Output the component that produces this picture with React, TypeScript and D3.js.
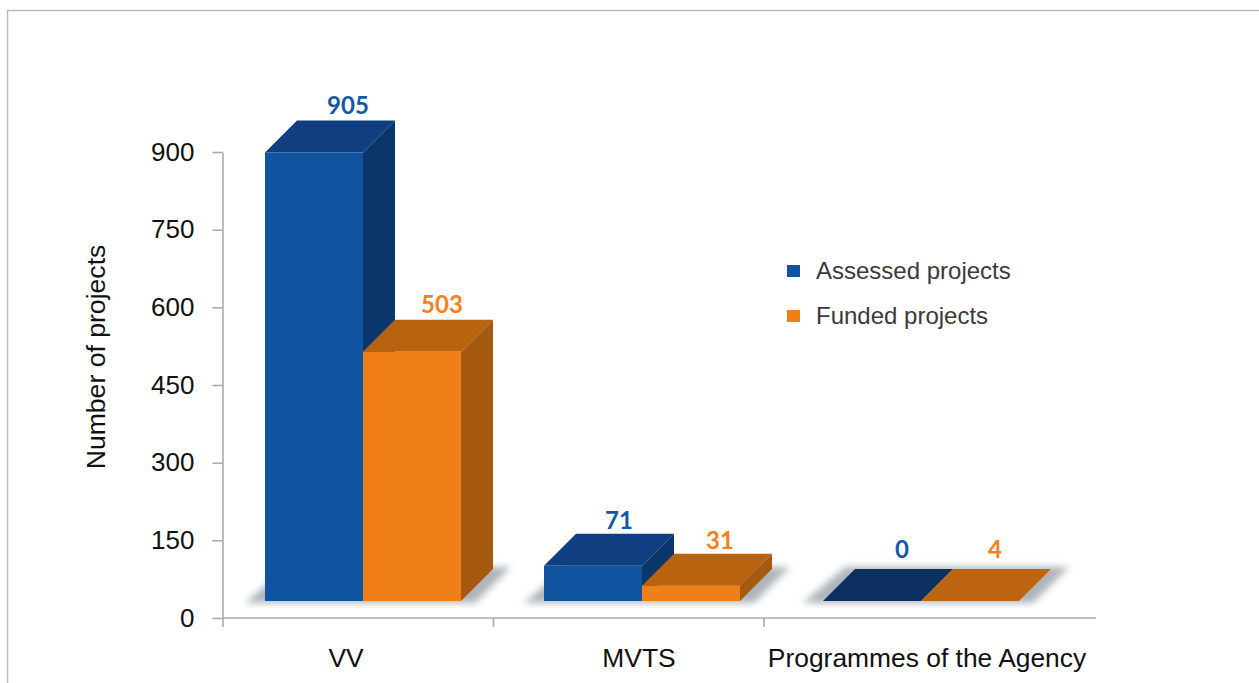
import React, { useEffect, useRef } from 'react';
import * as d3 from 'd3';

const categories = ['VV', 'MVTS', 'Programmes of the Agency'];
const assessed = [905, 71, 0];
const funded = [503, 31, 4];
const axisTicks = [0, 150, 300, 450, 600, 750, 900];
const legendLabels = ['Assessed projects', 'Funded projects'];

const WIDTH = 1259, HEIGHT = 683;
const BLUE = { front: '#10539F', top: '#0F3F80', side: '#0B366C', flat: '#0C2E60', text: '#1259A5' };
const ORANGE = { front: '#F07F1A', top: '#B8630F', side: '#A55A10', flat: '#BC6410', text: '#F28120' };
const DEPTH_X = 32, DEPTH_Y = 32;
const FONT = '"Liberation Sans", Arial, sans-serif';

const App = () => {
  const svgRef = useRef<SVGSVGElement>(null);

  useEffect(() => {
    const svg = d3.select(svgRef.current);
    svg.selectAll('*').remove();

    const blur = svg.append('defs').append('filter').attr('id', 'floor')
      .attr('x', '-20%').attr('y', '-40%').attr('width', '140%').attr('height', '180%');
    blur.append('feGaussianBlur').attr('stdDeviation', 3.5);

    // outer frame, cut off on the right and bottom
    svg.append('path').attr('d', `M7.5,${HEIGHT}V10.5H${WIDTH}`)
      .attr('fill', 'none').attr('stroke', '#bdbdbd').attr('stroke-width', 1.5);

    // the axis and the 3d bars do not share a scale, the bars sit on a raised floor
    const yAxis = d3.scaleLinear().domain([0, 900]).range([618, 152]);
    const xAxis = d3.scaleLinear().domain([0, 3]).range([222.5, 1034]);
    const yBar = d3.scaleLinear().domain([0, 905]).range([601, 152.5]);
    const xGroup = d3.scalePoint<string>().domain(categories).range([265, 823]);
    const xLabel = d3.scaleOrdinal<string, number>().domain(categories).range([346, 639, 927]);
    const barW = 98;

    const axisG = svg.append('g');
    const left = axisG.append('g').attr('transform', 'translate(222.5,0)')
      .call(d3.axisLeft(yAxis).tickValues(axisTicks).tickSize(10).tickSizeOuter(0).tickPadding(18));
    left.selectAll('text').attr('font-family', FONT).attr('font-size', 26).attr('fill', '#111');
    const bottom = axisG.append('g').attr('transform', 'translate(0,618)')
      .call(d3.axisBottom(xAxis).tickValues([0, 1, 2]).tickSize(9).tickSizeOuter(0).tickFormat(() => ''));
    bottom.select('.domain').attr('d', 'M222.5,0H1096');
    axisG.selectAll('.domain, .tick line').attr('stroke', '#ababab').attr('stroke-width', 1.6);

    svg.selectAll('.cat').data(categories).join('text').attr('class', 'cat')
      .attr('x', d => xLabel(d)).attr('y', 667).attr('text-anchor', 'middle')
      .attr('font-family', FONT).attr('font-size', 26.4).attr('fill', '#111').text(d => d);

    svg.append('text').attr('transform', 'translate(105,357) rotate(-90)').attr('text-anchor', 'middle')
      .attr('font-family', FONT).attr('font-size', 26.6).attr('fill', '#111').text('Number of projects');

    const floor = d3.line();
    categories.forEach(cat => {
      const x0 = xGroup(cat) as number;
      const backTop = yBar(0) - DEPTH_Y;
      svg.append('path').attr('filter', 'url(#floor)').attr('fill', '#aeb5ba')
        .attr('d', floor([[x0 - 20, 603], [x0 + 22, backTop - 2], [x0 + barW * 2 + DEPTH_X + 18, backTop - 2], [x0 + barW * 2 + 14, 603]]));
    });

    const prism = (x: number, value: number, c: typeof BLUE) => {
      // the smallest values read as a flat plate on the floor
      const isFlat = value <= 5;
      const top = isFlat ? yBar(0) : yBar(value), base = yBar(0);
      const g = svg.append('g');
      if (!isFlat) {
        g.append('path').attr('fill', c.side)
          .attr('d', floor([[x + barW, top], [x + barW + DEPTH_X, top - DEPTH_Y], [x + barW + DEPTH_X, base - DEPTH_Y], [x + barW, base]]));
      }
      g.append('path').attr('fill', isFlat ? c.flat : c.top)
        .attr('d', floor([[x, top], [x + DEPTH_X, top - DEPTH_Y], [x + barW + DEPTH_X, top - DEPTH_Y], [x + barW, top]]));
      if (!isFlat) g.append('rect').attr('x', x).attr('y', top).attr('width', barW).attr('height', base - top).attr('fill', c.front);
    };

    categories.forEach((cat, i) => {
      const x0 = xGroup(cat) as number;
      prism(x0, assessed[i], BLUE);
      prism(x0 + barW, funded[i], ORANGE);
    });

    // value labels, nudged a little like the original
    const valueText = (x: number, y: number, value: number, color: string) =>
      svg.append('text').attr('x', x).attr('y', y).attr('text-anchor', 'middle')
        .attr('font-family', 'Lato, sans-serif').attr('font-weight', 700).attr('font-size', 24)
        .attr('fill', color).text(value);
    const nudgeBlue = [2, -6, -2], nudgeOrange = [-2, -3, -7], lift = [7, 5, 11];
    categories.forEach((cat, i) => {
      const x0 = xGroup(cat) as number;
      valueText(x0 + barW / 2 + DEPTH_X + nudgeBlue[i], yBar(assessed[i]) - DEPTH_Y - lift[i], assessed[i], BLUE.text);
      valueText(x0 + barW * 1.5 + DEPTH_X + nudgeOrange[i], yBar(funded[i]) - DEPTH_Y - (i === 2 ? lift[i] - 2 : lift[i]), funded[i], ORANGE.text);
    });

    const legend = svg.append('g').attr('transform', 'translate(787,271)');
    legendLabels.forEach((label, i) => {
      const row = legend.append('g').attr('transform', `translate(0,${i * 45})`);
      row.append('rect').attr('y', -6).attr('width', 13).attr('height', 12)
        .attr('fill', i === 0 ? BLUE.front : ORANGE.front);
      row.append('text').attr('x', 29).attr('y', 8).attr('font-family', FONT).attr('font-size', 24)
        .attr('fill', '#3a3a3a').text(label);
    });
  }, []);

  return <svg ref={svgRef} width={WIDTH} height={HEIGHT} style={{ position: 'absolute', left: 0, top: 0, background: '#fff' }} />;
};

export default App;
